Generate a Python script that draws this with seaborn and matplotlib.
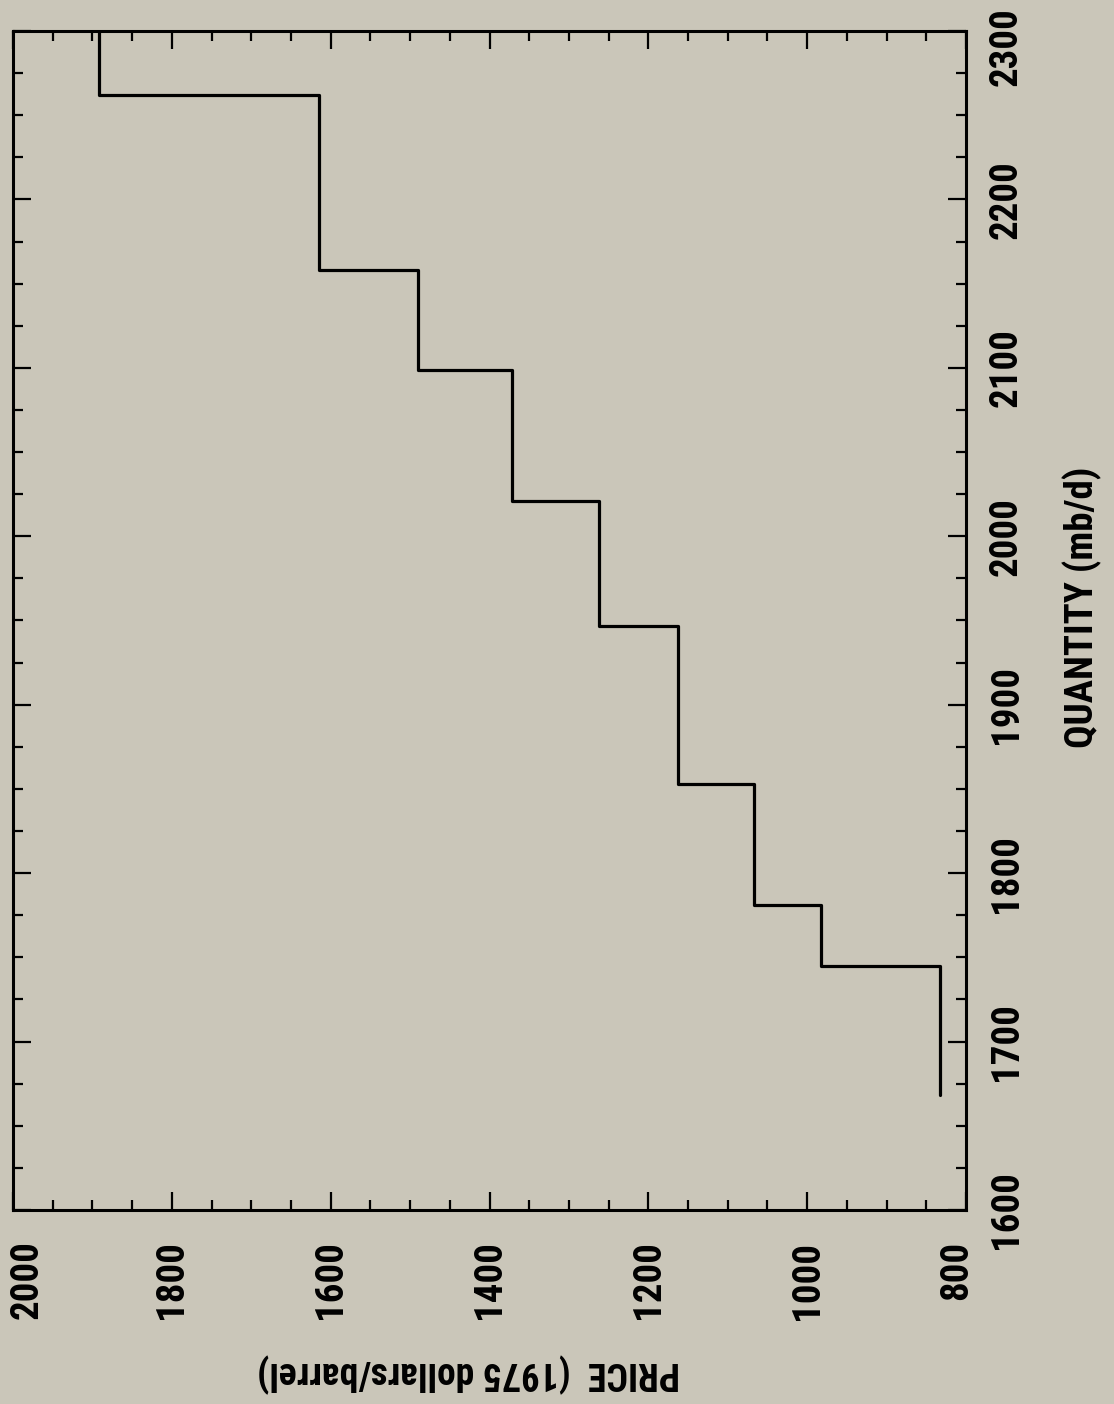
import matplotlib
matplotlib.use('Agg')
import matplotlib.pyplot as plt
import matplotlib.transforms as mtransforms
from matplotlib.ticker import MultipleLocator
import seaborn as sns
import pandas as pd

# Step supply curve: quantity interval edges (mb/d) and the price level on each interval
quantity_edges = [1668, 1745, 1781, 1853, 1947, 2021, 2099, 2158, 2262, 2300]
price_levels = [833, 982, 1067, 1163, 1262, 1372, 1490, 1615, 1892]

price_ticks = [800, 1000, 1200, 1400, 1600, 1800, 2000]
quantity_ticks = [1600, 1700, 1800, 1900, 2000, 2100, 2200, 2300]
price_tick_labels = ['800', '1000', '1200', '1400', '1600', '1800', '2000']
quantity_tick_labels = ['1600', '1700', '1800', '1900', '2000', '2100', '2200', '2300']

x_label = 'QUANTITY (mb/d)'
y_label = 'PRICE  (1975 dollars/barrel)'

sns.set_theme(style='ticks')
plt.rcParams['font.family'] = ['Roboto Condensed', 'Open Sans Condensed',
                               'Liberation Sans Narrow', 'DejaVu Sans']
plt.rcParams['font.stretch'] = 'condensed'
plt.rcParams['font.weight'] = 'bold'

bg = '#cac6b9'
W, H = 1114, 1404
fig = plt.figure(figsize=(W / 100, H / 100), dpi=100, facecolor=bg)
ax = fig.add_axes([13 / W, (H - 1210) / H, 953 / W, 1179 / H])
ax.set_facecolor(bg)

# build the step path (chart is shown rotated: price horizontal, quantity vertical)
rows = []
for i, p in enumerate(price_levels):
    rows.append((p, quantity_edges[i]))
    rows.append((p, quantity_edges[i + 1]))
df = pd.DataFrame(rows, columns=['price', 'quantity'])
sns.lineplot(data=df, x='price', y='quantity', sort=False, estimator=None,
             color='black', lw=2.3, ax=ax)

ax.set_xlim(2000, 800)
ax.set_ylim(1600, 2300)
ax.set_xlabel('')
ax.set_ylabel('')

ax.set_xticks(price_ticks)
ax.set_xticklabels(price_tick_labels, rotation=90, ha='center', va='top')
ax.xaxis.set_minor_locator(MultipleLocator(50))
ax.set_yticks(quantity_ticks)
ax.set_yticklabels(quantity_tick_labels, rotation=90, ha='left', va='center')
ax.yaxis.set_minor_locator(MultipleLocator(25))

ax.tick_params(which='both', direction='in', top=True, bottom=True, left=True, right=True,
               labelleft=False, labelright=True, labeltop=False, labelbottom=True,
               color='black', labelcolor='black', width=1.6)
ax.tick_params(which='major', length=13)
ax.tick_params(which='minor', length=7.5)
ax.tick_params(axis='x', which='major', pad=22, labelsize=28)
ax.tick_params(axis='y', which='major', pad=15.5, labelsize=28)

for s in ax.spines.values():
    s.set_visible(True)
    s.set_linewidth(2.2)
    s.set_color('black')

# nudge the edge labels inward like the original
xt = ax.xaxis.get_major_ticks()
for t, dx in ((xt[0], -0.09), (xt[-1], 0.14)):
    t.label1.set_transform(t.label1.get_transform() +
                           mtransforms.ScaledTranslation(dx, 0, fig.dpi_scale_trans))
yt = ax.yaxis.get_major_ticks()
yt[-1].label2.set_transform(yt[-1].label2.get_transform() +
                            mtransforms.ScaledTranslation(0, -0.16, fig.dpi_scale_trans))

fig.text(1082 / W, 1 - 607 / H, x_label, rotation=90, ha='center', va='center',
         fontsize=28, fontweight='bold', color='black')
fig.text(469 / W, 1 - 1373 / H, y_label, rotation=180, ha='center', va='center',
         fontsize=27, fontweight='bold', color='black')

fig.savefig('out.png', dpi=100, facecolor=bg)
